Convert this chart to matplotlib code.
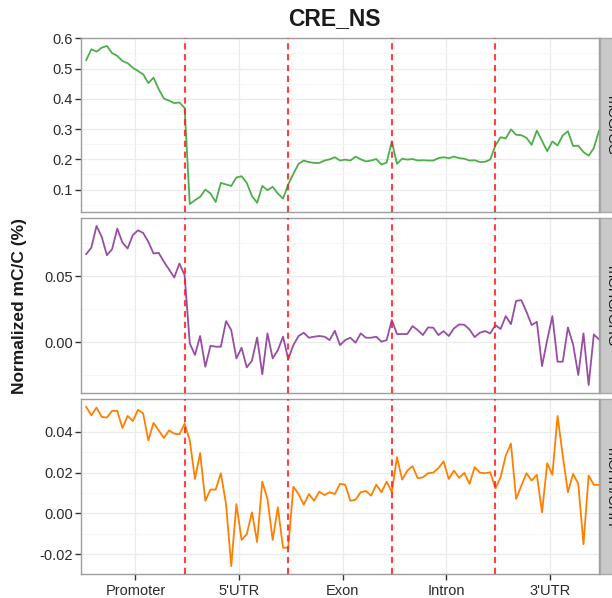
import numpy as np
import matplotlib
matplotlib.use("Agg")
import matplotlib.pyplot as plt
from matplotlib.ticker import AutoMinorLocator, FormatStrFormatter

plt.rcParams["font.family"] = ["Liberation Sans", "DejaVu Sans"]

# ---- data -------------------------------------------------------------
regions = ["Promoter", "5'UTR", "Exon", "Intron", "3'UTR"]
region_width = 100
bins_per_region = 20
boundaries = [100, 200, 300, 400]

mcg = [
    0.528, 0.564, 0.556, 0.569, 0.575, 0.551, 0.542, 0.525, 0.518, 0.503,
    0.492, 0.481, 0.452, 0.470, 0.432, 0.401, 0.394, 0.386, 0.388, 0.370,
    0.052, 0.065, 0.076, 0.100, 0.087, 0.059, 0.122, 0.117, 0.112, 0.140,
    0.144, 0.122, 0.079, 0.056, 0.112, 0.098, 0.109, 0.087, 0.070, 0.117,
    0.152, 0.185, 0.196, 0.191, 0.188, 0.188, 0.196, 0.200, 0.207, 0.196,
    0.199, 0.196, 0.209, 0.200, 0.193, 0.196, 0.201, 0.183, 0.189, 0.259,
    0.185, 0.202, 0.199, 0.201, 0.196, 0.197, 0.196, 0.196, 0.204, 0.207,
    0.204, 0.209, 0.204, 0.202, 0.196, 0.197, 0.191, 0.192, 0.199, 0.246,
    0.273, 0.269, 0.299, 0.281, 0.280, 0.271, 0.248, 0.295, 0.261, 0.227,
    0.259, 0.246, 0.279, 0.293, 0.244, 0.245, 0.224, 0.212, 0.237, 0.295,
]

mchg = [
    0.0667, 0.0717, 0.0881, 0.0798, 0.0659, 0.0705, 0.0861, 0.0755, 0.0710, 0.0811,
    0.0848, 0.0828, 0.0760, 0.0672, 0.0677, 0.0609, 0.0551, 0.0490, 0.0596, 0.0508,
    -0.0010, -0.0098, 0.0046, -0.0187, -0.0028, -0.0035, -0.0035, 0.0159, 0.0091, -0.0124,
    -0.0043, -0.0192, -0.0141, 0.0035, -0.0245, 0.0066, -0.0124, -0.0061, 0.0041, -0.0129,
    -0.0023, 0.0046, 0.0071, 0.0033, 0.0041, 0.0046, 0.0041, 0.0015, 0.0086, -0.0023,
    0.0015, 0.0033, -0.0005, 0.0066, 0.0033, 0.0033, 0.0041, 0.0003, 0.0015, 0.0167,
    0.0061, 0.0061, 0.0061, 0.0121, 0.0091, 0.0053, 0.0111, 0.0109, 0.0053, 0.0083,
    0.0046, 0.0104, 0.0134, 0.0131, 0.0096, 0.0038, 0.0071, 0.0083, 0.0066, 0.0129,
    0.0099, 0.0197, 0.0136, 0.0313, 0.0318, 0.0230, 0.0129, 0.0154, -0.0182, 0.0015,
    0.0197, -0.0149, -0.0149, 0.0111, -0.0018, -0.0250, 0.0066, -0.0326, 0.0058, 0.0020,
]

mchh = [
    0.0522, 0.0481, 0.0519, 0.0473, 0.0470, 0.0503, 0.0503, 0.0419, 0.0478, 0.0453,
    0.0508, 0.0490, 0.0358, 0.0444, 0.0407, 0.0370, 0.0407, 0.0391, 0.0388, 0.0440,
    0.0358, 0.0169, 0.0296, 0.0062, 0.0117, 0.0117, 0.0197, 0.0046, -0.0258, 0.0046,
    -0.0130, -0.0102, 0.0005, -0.0140, 0.0156, 0.0071, -0.0130, 0.0030, -0.0168, -0.0168,
    0.0131, 0.0095, 0.0043, 0.0095, 0.0062, 0.0107, 0.0090, 0.0104, 0.0095, 0.0145,
    0.0141, 0.0062, 0.0067, 0.0104, 0.0110, 0.0087, 0.0141, 0.0104, 0.0156, 0.0104,
    0.0276, 0.0166, 0.0210, 0.0232, 0.0173, 0.0177, 0.0197, 0.0200, 0.0222, 0.0255,
    0.0169, 0.0210, 0.0174, 0.0199, 0.0145, 0.0227, 0.0200, 0.0197, 0.0202, 0.0123,
    0.0177, 0.0284, 0.0342, 0.0071, 0.0136, 0.0197, 0.0161, 0.0189, 0.0005, 0.0246,
    0.0189, 0.0478, 0.0284, 0.0104, 0.0194, 0.0145, -0.0151, 0.0186, 0.0140, 0.0140,
]

strip_labels = ["mCG/CG", "mCHG/CHG", "mCHH/CHH"]
series = [mcg, mchg, mchh]
line_colors = ["#4DAF4A", "#984EA3", "#FF7F00"]
y_ticks = [[0.1, 0.2, 0.3, 0.4, 0.5, 0.6], [0.0, 0.05], [-0.02, 0.0, 0.02, 0.04]]
y_formats = ["%.1f", "%.2f", "%.2f"]

# ---- layout (pixels) --------------------------------------------------
W, H = 612, 598
fig = plt.figure(figsize=(W / 100, H / 100), dpi=100)
fig.patch.set_facecolor("white")

left_px, right_px = 81, 599
panel_px = [(38, 212), (218, 393), (399, 574)]
strip_x0, strip_w = 600, 22

step = region_width / bins_per_region
x = np.arange(1, len(mcg) + 1) * step
tick_pos = [region_width * i + region_width / 2 + 2.5 for i in range(len(regions))]
minor_x = [region_width * (i + 1) + 2.5 for i in range(len(regions) - 1)]

border = "#9E9E9E"
grid_major = "#EBEBEB"
grid_minor = "#F5F5F5"
text_col = "#2B2B2B"

axes = []
for i, (top, bot) in enumerate(panel_px):
    ax = fig.add_axes([left_px / W, 1 - bot / H, (right_px - left_px) / W, (bot - top) / H])
    axes.append(ax)
    ax.set_facecolor("white")
    ax.plot(x, series[i], color=line_colors[i], lw=1.3, solid_joinstyle="round", zorder=3)
    for b in boundaries:
        ax.axvline(b, color="#FF2020", alpha=0.85, lw=1.5, ls=(0, (3.0, 2.2)), zorder=4)

    ax.set_xlim(0, len(regions) * region_width)
    ax.margins(y=0.05)
    ax.set_yticks(y_ticks[i])
    ax.yaxis.set_major_formatter(FormatStrFormatter(y_formats[i]))
    ax.yaxis.set_minor_locator(AutoMinorLocator(2))
    ax.set_xticks(tick_pos)
    ax.set_xticks(minor_x, minor=True)

    ax.grid(True, which="major", color=grid_major, lw=0.9, zorder=0)
    ax.grid(True, which="minor", color=grid_minor, lw=0.6, zorder=0)
    ax.set_axisbelow(True)

    for s in ax.spines.values():
        s.set_color(border)
        s.set_linewidth(1.0)

    ax.tick_params(axis="y", which="major", length=4, width=1.0, color="#333333",
                   labelsize=10.5, labelcolor=text_col, pad=2)
    ax.tick_params(which="minor", length=0)
    if i < 2:
        ax.tick_params(axis="x", which="major", length=0, labelbottom=False)
    else:
        ax.set_xticklabels(regions)
        ax.tick_params(axis="x", which="major", length=4, width=1.0, color="#333333",
                       labelsize=10.5, labelcolor=text_col, pad=3)

    # facet strip on the right edge of each panel
    sax = fig.add_axes([strip_x0 / W, 1 - bot / H, strip_w / W, (bot - top) / H])
    sax.set_facecolor("#C9C9C9")
    sax.set_xticks([])
    sax.set_yticks([])
    for s in sax.spines.values():
        s.set_color("#A8A8A8")
        s.set_linewidth(1.0)
    sax.text(0.5, 0.5, strip_labels[i], rotation=270, ha="center", va="center",
             fontsize=10.5, color="#1A1A1A", transform=sax.transAxes)

fig.text(334 / W, 1 - 19 / H, "CRE_NS", ha="center", va="center",
         fontsize=16.5, fontweight="bold", color="#1A1A1A")
fig.text(20 / W, 1 - 306 / H, "Normalized mC/C (%)", rotation=90, ha="center", va="center",
         fontsize=12.5, fontweight="bold", color="#1A1A1A")

fig.savefig("out.png", dpi=100)
